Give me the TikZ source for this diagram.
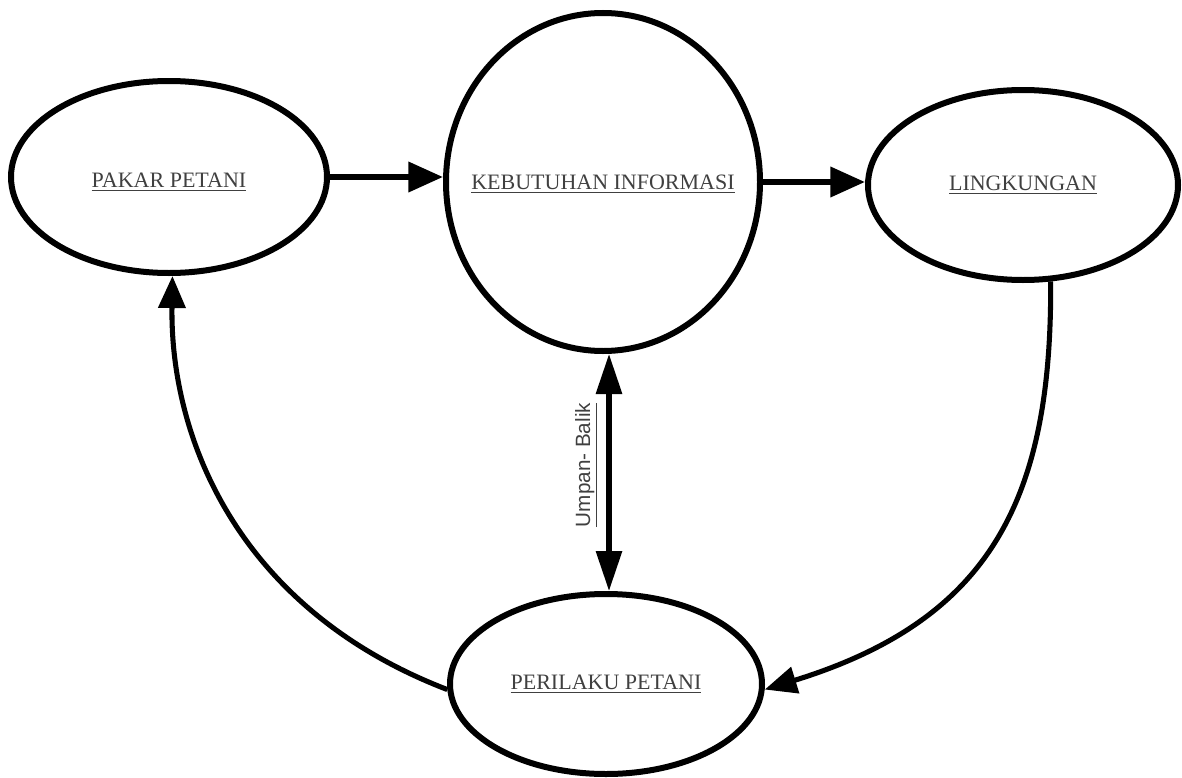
\documentclass[tikz,border=0pt]{standalone}
\usepackage{fontspec}
\setmainfont{Liberation Serif}
\setsansfont{Liberation Sans}
\usetikzlibrary{shapes.geometric,arrows.meta}
\definecolor{txt}{rgb}{0.25,0.25,0.25}
\begin{document}
\begin{tikzpicture}[x=0.75pt,y=-0.75pt,
  bubble/.style={draw=black,ellipse,line width=4.5pt,inner sep=0pt},
  btext/.style={font=\fontsize{16.5}{20}\selectfont,text=txt,inner sep=0pt},
  flow/.style={line width=4.5pt,-{Triangle[length=26pt,width=22pt]}},
  curv/.style={line width=3.8pt,-{Triangle[length=24pt,width=20pt]}},
  fb/.style={line width=3.8pt,{Triangle[length=30pt,width=19pt]}-{Triangle[length=30pt,width=19pt]}},
  lbl/.style={font=\sffamily\fontsize{15.5}{18}\selectfont,text=txt,inner sep=0pt}]
\useasboundingbox (0,0) rectangle (1182,778);
\node[bubble,minimum width=237pt,minimum height=144pt] (pakar) at (169,177) {};
\node[bubble,minimum width=235.5pt,minimum height=253.5pt] (keb) at (603,182) {};
\node[bubble,minimum width=232.5pt,minimum height=142.5pt] (ling) at (1023,185) {};
\node[bubble,minimum width=234pt,minimum height=135pt] (peri) at (606,684) {};
\node[btext] (tpakar) at (169,182) {\underline{PAKAR PETANI}};
\node[btext] (tkeb) at (603,184) {\underline{KEBUTUHAN INFORMASI}};
\node[btext] (tling) at (1023,185) {\underline{LINGKUNGAN}};
\node[btext] (tperi) at (606,684) {\underline{PERILAKU PETANI}};
\draw[flow] (pakar.east) -- (pakar.east -| keb.west);
\draw[flow] (keb.east) -- (keb.east -| ling.west);
\draw[fb] (keb.south -| 609,0) -- (peri.north -| 609,0);
\node[lbl,rotate=90] (ub) at (586,465) {\underline{Umpan- Balik}};
\draw[curv] (ling.-74) .. controls (1052,500) and (990,620) .. (peri.-2);
\draw[curv] (peri.182) .. controls (240,610) and (170,440) .. (pakar.-88);
\end{tikzpicture}
\end{document}
